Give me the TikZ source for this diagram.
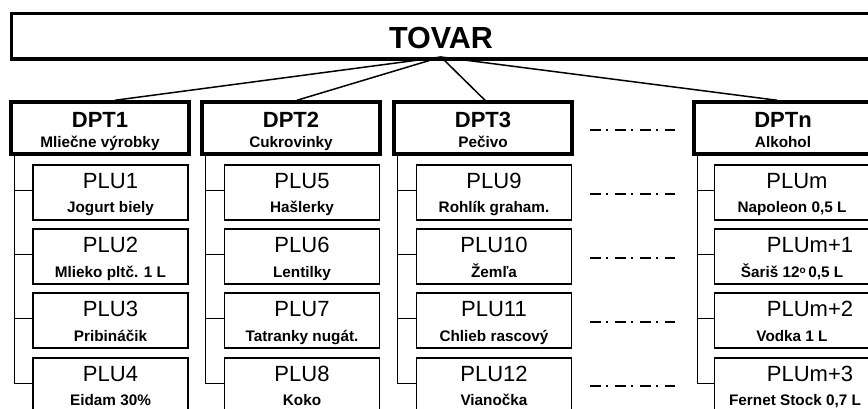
\documentclass[tikz,border=0pt]{standalone}
\usepackage{fontspec}
\setmainfont{Liberation Sans}
\begin{document}
\begin{tikzpicture}[x=1pt,y=-1pt,
  topbox/.style={draw,line width=3.5pt,minimum width=880pt,minimum height=45.5pt,inner sep=0pt,anchor=north west},
  dptbox/.style={draw,line width=3.5pt,minimum width=178pt,minimum height=52pt,inner sep=0pt},
  plubox/.style={draw,line width=1.6pt,minimum width=155pt,minimum height=55pt,inner sep=0pt},
  conn/.style={line width=1.5pt},
  tree/.style={line width=1.3pt},
  dotdash/.style={line width=2pt,dash pattern=on 11pt off 5pt on 2pt off 7pt},
  big/.style={font=\fontsize{30.5}{32}\selectfont\bfseries,anchor=base,inner sep=0pt},
  dlab/.style={font=\fontsize{22}{24}\selectfont\bfseries,anchor=base,inner sep=0pt},
  plab/.style={font=\fontsize{22}{24}\selectfont,anchor=base,inner sep=0pt},
  sub/.style={font=\fontsize{15.3}{17}\selectfont\bfseries,anchor=base,inner sep=0pt}]
\useasboundingbox (0,0) rectangle (868,408);
\clip (0,0) rectangle (868,408);
% top box
\node[topbox] (tovar) at (9.5,11.5) {};
\node[big] (tovart) at (441,48) {TOVAR};
\coordinate (hub) at (441,57);
% departments
\node[dptbox] (d1) at (100,128) {};
\node[dptbox] (d2) at (291,128) {};
\node[dptbox] (d3) at (483,128) {};
\node[dptbox] (dn) at (783,128) {};
\node[dlab] at (100,127) {DPT1};
\node[sub]  at (100,147) {Mliečne výrobky};
\node[dlab] at (291,127) {DPT2};
\node[sub]  at (291,147) {Cukrovinky};
\node[dlab] at (483,127) {DPT3};
\node[sub]  at (483,147) {Pečivo};
\node[dlab] at (783,127) {DPTn};
\node[sub]  at (783,147) {Alkohol};
\draw[conn] (hub) -- ([xshift=15pt]d1.north);
\draw[conn] (hub) -- ([xshift=6pt]d2.north);
\draw[conn] (hub) -- ([xshift=2pt]d3.north);
\draw[conn] (hub) -- ([xshift=-6pt]dn.north);
% PLU boxes
\foreach \c/\x in {1/110.5,2/302,3/494,4/792}{
  \foreach \r/\y in {1/192.5,2/256.5,3/320.5,4/385.5}{
    \node[plubox] (p\c\r) at (\x,\y) {};
  }
}
% labels column 1
\node[plab] at (110.5,188) {PLU1};  \node[sub] at (110.5,212) {Jogurt biely};
\node[plab] at (110.5,252) {PLU2};  \node[sub] at (110.5,277) {Mlieko pltč. 1 L};
\node[plab] at (110.5,316) {PLU3};  \node[sub] at (110.5,341) {Pribináčik};
\node[plab] at (110.5,381) {PLU4};  \node[sub] at (110.5,405) {Eidam 30\%};
% column 2
\node[plab] at (302,188) {PLU5};  \node[sub] at (302,212) {Hašlerky};
\node[plab] at (302,252) {PLU6};  \node[sub] at (302,277) {Lentilky};
\node[plab] at (302,316) {PLU7};  \node[sub] at (302,341) {Tatranky nugát.};
\node[plab] at (302,381) {PLU8};  \node[sub] at (302,405) {Koko};
% column 3
\node[plab] at (494,188) {PLU9};  \node[sub] at (494,212) {Rohlík graham.};
\node[plab] at (494,252) {PLU10}; \node[sub] at (494,277) {Žemľa};
\node[plab] at (494,316) {PLU11}; \node[sub] at (494,341) {Chlieb rascový};
\node[plab] at (494,381) {PLU12}; \node[sub] at (494,405) {Vianočka};
% column n
\node[plab] at (797,188) {PLUm};   \node[sub] at (792,212) {Napoleon 0,5 L};
\node[plab] at (810,252) {PLUm+1}; \node[sub] at (792,277) {Šariš 12{\fontsize{10}{10}\selectfont\raisebox{4pt}{o}}\,0,5 L};
\node[plab] at (810,316) {PLUm+2}; \node[sub] at (792,341) {Vodka 1 L};
\node[plab] at (810,381) {PLUm+3}; \node[sub] at (795,405) {Fernet Stock 0,7 L};
% tree lines
\foreach \c/\dd in {1/d1,2/d2,3/d3,4/dn}{
  \coordinate (v\c) at ([xshift=5pt]\dd.south west);
  \draw[tree] (v\c) |- ([yshift=2pt]p\c4.west);
  \foreach \r in {1,2,3}{
    \draw[tree] ([yshift=2pt]p\c\r.west) -- ([yshift=2pt]p\c\r.west -| v\c);
  }
}
% ellipsis lines
\foreach \y [count=\i] in {130,194,258,322,386}{
  \coordinate (ea\i) at (590,\y);
  \coordinate (eb\i) at (675,\y);
  \draw[dotdash] (ea\i) -- (eb\i);
}
\end{tikzpicture}
\end{document}
